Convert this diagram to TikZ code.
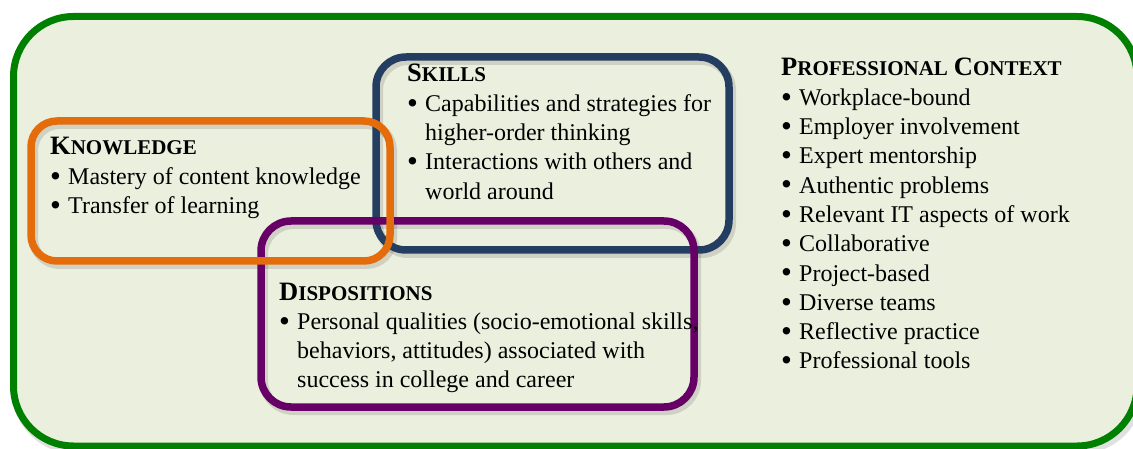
\documentclass[tikz,border=0pt]{standalone}
\usepackage{fontspec}
\setmainfont{Liberation Serif}

\definecolor{framegreen}{RGB}{0,128,0}
\definecolor{paper}{RGB}{235,239,222}
\definecolor{knoworange}{RGB}{228,108,10}
\definecolor{skillnavy}{RGB}{36,62,98}
\definecolor{disposplum}{RGB}{102,0,102}

% heading in small capitals, list bullet, continued line
\newcommand\hd[2]{\textbf{\fontsize{26.5}{26.5}\selectfont #1\fontsize{21}{21}\selectfont #2}}
\newcommand\itm{\makebox[18pt][l]{\raisebox{-1.8pt}{\fontsize{31}{31}\selectfont\textbullet}}}
\newcommand\cnt{\hspace*{18pt}}

\tikzset{
  ring/.style={line width=7.5pt, rounded corners=#1},
  ringshadow/.style={draw=black, opacity=0.12, line width=9pt,
    rounded corners=#1, shift={(2.5,3.5)}},
  block/.style={anchor=base west, inner sep=0pt, align=left,
    font=\fontsize{24}{29.3}\selectfont}
}

\begin{document}
\begin{tikzpicture}[x=1pt,y=-1pt]
  \useasboundingbox (0,0) rectangle (1133,449);
  \clip (0,0) rectangle (1133,449);

  % outer frame
  \draw[ringshadow=60] (13.5,16.5) rectangle (1137,446);
  \draw[ring=60, draw=framegreen, fill=paper, line width=7pt]
    (13.5,16.5) rectangle (1137,446);

  % the three overlapping boxes
  \draw[ringshadow=30] (376,57) rectangle (729,250);
  \draw[ringshadow=30] (261,221) rectangle (694,407);
  \draw[ringshadow=26] (31,121) rectangle (390,261);
  \draw[ring=30, draw=skillnavy]  (376,57) rectangle (729,250);
  \draw[ring=30, draw=disposplum] (261,221) rectangle (694,407);
  \draw[ring=26, draw=knoworange] (31,121) rectangle (390,261);

  \node[block] (know) at (50,155) {\begin{tabular}[t]{@{}l@{}}
    \hd{K}{NOWLEDGE}\\
    \itm Mastery of content knowledge\\
    \itm Transfer of learning
  \end{tabular}};

  \node[block] (skill) at (407,82) {\begin{tabular}[t]{@{}l@{}}
    \hd{S}{KILLS}\\
    \itm Capabilities and strategies for\\
    \cnt higher-order thinking\\
    \itm Interactions with others and\\
    \cnt world around
  \end{tabular}};

  \node[block] (dispo) at (279,300) {\begin{tabular}[t]{@{}l@{}}
    \hd{D}{ISPOSITIONS}\\
    \itm Personal qualities (socio-emotional skills,\\
    \cnt behaviors, attitudes) associated with\\
    \cnt success in college and career
  \end{tabular}};

  \node[block] (context) at (781,76) {\begin{tabular}[t]{@{}l@{}}
    \hd{P}{ROFESSIONAL} \hd{C}{ONTEXT}\\
    \itm Workplace-bound\\
    \itm Employer involvement\\
    \itm Expert mentorship\\
    \itm Authentic problems\\
    \itm Relevant IT aspects of work\\
    \itm Collaborative\\
    \itm Project-based\\
    \itm Diverse teams\\
    \itm Reflective practice\\
    \itm Professional tools
  \end{tabular}};
\end{tikzpicture}
\end{document}
